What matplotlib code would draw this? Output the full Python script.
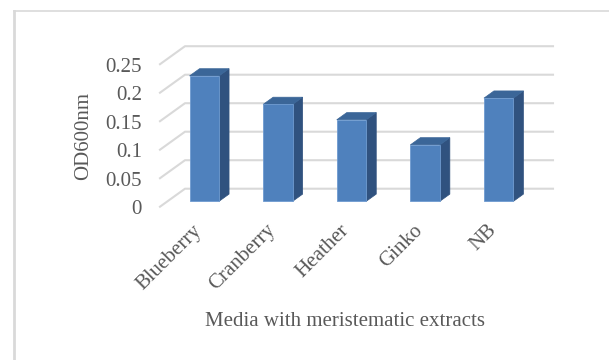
import matplotlib.pyplot as plt
from matplotlib.patches import Polygon
from matplotlib.lines import Line2D

categories = ['Blueberry', 'Cranberry', 'Heather', 'Ginko', 'NB']
od600 = [0.22, 0.17, 0.143, 0.099, 0.181]
yticks = [0, 0.05, 0.1, 0.15, 0.2, 0.25]
ytick_labels = ['0', '0.05', '0.1', '0.15', '0.2', '0.25']

plt.rcParams['font.family'] = ['Liberation Serif', 'DejaVu Serif']
text_col = '#595959'
grid_col = '#d9d9d9'
front_col = '#4f81bd'
side_col = '#30527f'
top_col = '#3b6698'

fig = plt.figure(figsize=(6.09, 3.6), dpi=100)
ax = fig.add_axes([160 / 609, 153.3 / 360, 368 / 609, 142.5 / 360])
ax.set_xlim(-0.5, 4.5)
ax.set_ylim(0, 0.25)
ax.axis('off')

# oblique depth offsets (pixels -> data units)
px_x = 5 / 368.0
px_y = 0.25 / 142.5
dep_x, dep_y = 25 * px_x, 18 * px_y
bar_off_x, bar_off_y = 7.5 * px_x, 5.4 * px_y
bar_dx, bar_dy = 10 * px_x, 7.2 * px_y
bar_w = 29.5 * px_x

# gridlines: front-left diagonal + back wall horizontal
for v, lab in zip(yticks, ytick_labels):
    ax.add_line(Line2D([-0.5, -0.5 + dep_x, 4.5 + dep_x], [v, v + dep_y, v + dep_y],
                       color=grid_col, lw=1.5, clip_on=False, zorder=1))
    ax.text(-0.5 - 18 * px_x, v - 3 * px_y, lab,
            ha='right', va='center', fontsize=15, color=text_col)

for i, val in enumerate(od600):
    x0 = i - bar_w / 2 + bar_off_x
    x1 = x0 + bar_w
    y0 = bar_off_y
    y1 = val + bar_off_y
    front = Polygon([(x0, y0), (x1, y0), (x1, y1), (x0, y1)], closed=True,
                    fc=front_col, ec='#6f9bd0', lw=0.6, clip_on=False, zorder=3)
    side = Polygon([(x1, y0), (x1 + bar_dx, y0 + bar_dy), (x1 + bar_dx, y1 + bar_dy), (x1, y1)],
                   closed=True, fc=side_col, ec=side_col, lw=0.5, clip_on=False, zorder=3)
    top = Polygon([(x0, y1), (x1, y1), (x1 + bar_dx, y1 + bar_dy), (x0 + bar_dx, y1 + bar_dy)],
                  closed=True, fc=top_col, ec=top_col, lw=0.5, clip_on=False, zorder=3)
    for p in (side, top, front):
        ax.add_patch(p)
    ax.text(i - 0.06, -0.025, categories[i], rotation=45, ha='right', va='top',
            rotation_mode='anchor', fontsize=15, color=text_col)

fig.text(345 / 609, 1 - 322 / 360, 'Media with meristematic extracts', ha='center', va='center',
         fontsize=15, color=text_col)
fig.text(84 / 609, 1 - 136.5 / 360, 'OD600nm', ha='center', va='center', rotation=90,
         fontsize=15, color=text_col)

# chart frame (top and left edges visible)
fig.add_artist(Line2D([14 / 609, 1], [1 - 10.5 / 360, 1 - 10.5 / 360], color='#d9d9d9', lw=1.2))
fig.add_artist(Line2D([14 / 609, 14 / 609], [0, 1 - 10.5 / 360], color='#d9d9d9', lw=2))

fig.savefig('out.png', dpi=100)
